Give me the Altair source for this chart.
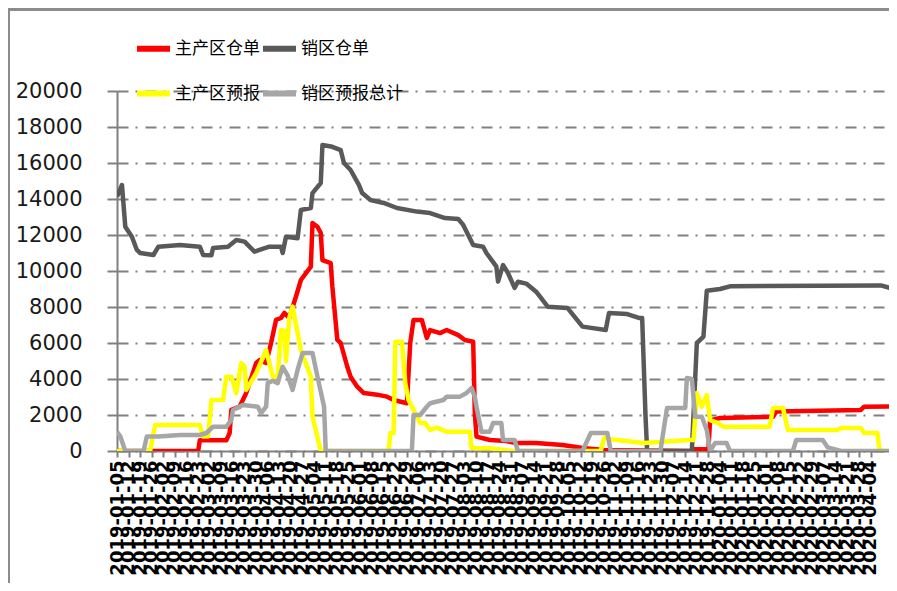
import altair as alt
import pandas as pd

SERIES = ["主产区仓单", "销区仓单", "主产区预报", "销区预报总计"]
COLORS = ["#FF0000", "#595959", "#FFFF00", "#A6A6A6"]
START = "2019-01-05"

# day offsets from START
RED_DAY = [0, 49, 50, 66, 68, 69, 74, 78, 80, 84, 86, 90, 93, 96, 99, 101, 104, 108, 111, 117,
           118, 121, 123, 124, 129, 130, 133, 135, 139, 141, 145, 149, 157, 163, 167, 175, 177, 179, 184, 187,
           189, 195, 199, 206, 210, 215, 216, 217, 225, 235, 241, 253, 269, 281, 294, 346, 348, 357, 358, 364,
           396, 398, 449, 451, 470]
RED_VAL = [0, 0, 600, 600, 1000, 2280, 2460, 3220, 3770, 4890, 5050, 4890, 6000, 7280, 7390, 7670, 7400, 8570, 9500, 10240,
           12670, 12460, 12110, 10610, 10440, 9130, 6170, 6000, 4680, 4130, 3570, 3220, 3130, 3020, 2830, 2650, 6000, 7280, 7280, 6280,
           6720, 6550, 6720, 6440, 6170, 6070, 2100, 800, 610, 550, 440, 440, 330, 170, 50, 0, 100, 100, 1700, 1830,
           1900, 2200, 2280, 2460, 2480]

DARK_DAY = [0, 3, 5, 9, 12, 14, 22, 25, 38, 50, 52, 57, 58, 67, 72, 77, 83, 86, 92, 99,
            100, 102, 109, 111, 117, 118, 123, 124, 130, 135, 137, 141, 146, 148, 153, 161, 169, 181, 189, 198,
            206, 209, 215, 221, 223, 229, 230, 233, 236, 240, 242, 247, 253, 260, 272, 281, 295, 297, 308, 315,
            317, 319, 320, 347, 350, 354, 356, 364, 370, 461, 467, 470]
DARK_VAL = [14130, 14780, 12460, 11900, 11170, 11000, 10890, 11350, 11440, 11350, 10890, 10870, 11280, 11350, 11720, 11630, 11070, 11170, 11350, 11350,
            11000, 11900, 11820, 13390, 13500, 14330, 14890, 17000, 16900, 16720, 16000, 15610, 14780, 14330, 13940, 13780, 13500, 13300, 13220, 12940,
            12890, 12560, 11440, 11350, 11000, 10240, 9410, 10330, 9890, 9060, 9400, 9300, 8850, 8020, 7940, 6910, 6720, 7670, 7610, 7390,
            7390, 2000, 0, 0, 6000, 6350, 8900, 9000, 9150, 9200, 9050, 9100]

YEL_DAY = [0, 20, 23, 50, 52, 55, 57, 64, 66, 69, 72, 75, 77, 78, 84, 90, 94, 97, 99, 101,
           102, 104, 106, 111, 117, 118, 123, 164, 165, 167, 168, 172, 174, 176, 179, 183, 186, 189, 193, 199,
           213, 214, 225, 239, 292, 294, 298, 318, 346, 348, 350, 353, 356, 358, 363, 366, 394, 396, 402, 405,
           435, 437, 449, 451, 459, 460, 461, 470]
YEL_VAL = [0, 0, 1440, 1440, 800, 800, 2830, 2830, 4130, 4130, 3220, 4890, 4700, 3390, 4330, 5610, 4130, 4130, 6720, 6700,
           5000, 7400, 8020, 5610, 4130, 1900, 0, 0, 1000, 1000, 6070, 6070, 3770, 2830, 2280, 1550, 1550, 1170, 1300, 1070,
           1070, 170, 150, 0, 0, 720, 650, 440, 610, 610, 3220, 2460, 3110, 1720, 1550, 1350, 1350, 2390, 2390, 1170,
           1170, 1280, 1280, 1000, 1000, 240, 0, 0]

GRY_DAY = [0, 2, 5, 16, 18, 25, 38, 50, 54, 58, 66, 69, 70, 76, 85, 87, 90, 91, 94, 97,
           100, 103, 106, 109, 112, 118, 121, 125, 126, 178, 179, 183, 187, 189, 197, 199, 207, 211, 214, 216,
           217, 220, 225, 227, 232, 233, 240, 242, 281, 286, 296, 298, 328, 332, 343, 344, 347, 349, 353, 356,
           358, 361, 368, 370, 408, 410, 426, 429, 437, 470]
GRY_VAL = [1070, 800, 0, 0, 800, 800, 890, 890, 1000, 1350, 1350, 1720, 2280, 2560, 2460, 2100, 2460, 3770, 3900, 3770,
           4680, 4200, 3390, 4500, 5440, 5440, 4130, 2460, 0, 0, 2000, 2000, 2460, 2650, 2830, 3020, 3020, 3220, 3500, 3000,
           2460, 1070, 1070, 1550, 1550, 610, 610, 0, 0, 1000, 1000, 0, 0, 2390, 2390, 4060, 4000, 1900, 1900, 1170,
           0, 440, 440, 0, 0, 610, 610, 200, 0, 0]

X_LABELS = [
    "2019-01-05", "2019-01-12", "2019-01-19", "2019-01-26", "2019-02-02", "2019-02-09", "2019-02-16", "2019-02-23",
    "2019-03-02", "2019-03-09", "2019-03-16", "2019-03-23", "2019-03-30", "2019-04-06", "2019-04-13", "2019-04-20",
    "2019-04-27", "2019-05-04", "2019-05-11", "2019-05-18", "2019-05-25", "2019-06-01", "2019-06-08", "2019-06-15",
    "2019-06-22", "2019-06-29", "2019-07-06", "2019-07-13", "2019-07-20", "2019-07-27", "2019-08-03", "2019-08-10",
    "2019-08-17", "2019-08-24", "2019-08-31", "2019-09-07", "2019-09-14", "2019-09-21", "2019-09-28", "2019-10-05",
    "2019-10-12", "2019-10-19", "2019-10-26", "2019-11-02", "2019-11-09", "2019-11-16", "2019-11-23", "2019-11-30",
    "2019-12-07", "2019-12-14", "2019-12-21", "2019-12-28", "2020-01-04", "2020-01-11", "2020-01-18", "2020-01-25",
    "2020-02-01", "2020-02-08", "2020-02-15", "2020-02-22", "2020-02-29", "2020-03-07", "2020-03-14", "2020-03-21",
    "2020-03-28", "2020-04-04",
]
X_END = "2020-04-15"
Y_TICKS = [0, 2000, 4000, 6000, 8000, 10000, 12000, 14000, 16000, 18000, 20000]

start = pd.Timestamp(START)
rows = []
for name, days, vals in zip(SERIES, [RED_DAY, DARK_DAY, YEL_DAY, GRY_DAY], [RED_VAL, DARK_VAL, YEL_VAL, GRY_VAL]):
    for d, v in zip(days, vals):
        rows.append({"date": (start + pd.Timedelta(days=d)).strftime("%Y-%m-%dT00:00:00"),
                     "value": v, "series": name})
df = pd.DataFrame(rows)


def dt(s):
    y, m, d = (int(p) for p in s.split("-"))
    return alt.DateTime(year=y, month=m, date=d)


x_enc = alt.X(
    "date:T",
    scale=alt.Scale(domain=[dt(START), dt(X_END)], nice=False),
    axis=alt.Axis(values=[dt(s) for s in X_LABELS], format="%Y-%m-%d", labelAngle=270,
                  labelFont="DejaVu Sans", labelFontSize=18, labelFontWeight="bold", labelColor="#000000",
                  labelOverlap=False, labelFlush=False, labelBound=False, labelPadding=3,
                  tickSize=6, tickWidth=2, tickColor="#808080", domainColor="#808080", domainWidth=2,
                  grid=False, title=None),
)
y_enc = alt.Y(
    "value:Q",
    scale=alt.Scale(domain=[0, 20000], nice=False),
    axis=alt.Axis(values=Y_TICKS, format="d", title=None, labelFont="DejaVu Sans", labelFontSize=21,
                  labelColor="#1a1a1a", labelPadding=25, tickSize=10, tickWidth=2, tickColor="#808080",
                  domainColor="#808080", domainWidth=2, grid=True, gridColor="#808080", gridWidth=2,
                  gridDash=[11, 7, 2, 8]),
)
color = alt.Color(
    "series:N",
    scale=alt.Scale(domain=SERIES, range=COLORS),
    sort=SERIES,
    legend=alt.Legend(title=None, orient="none", legendX=17, legendY=-62, columns=2, direction="horizontal",
                      symbolType="stroke", symbolStrokeWidth=6, symbolSize=1089,
                      labelFont="Noto Sans CJK SC", labelFontSize=17, labelColor="#000000",
                      columnPadding=-15, rowPadding=13, labelOffset=2),
)

lines = [
    alt.Chart(df).transform_filter(alt.datum.series == s)
    .mark_line(strokeWidth=4.5, clip=True, strokeJoin="round")
    .encode(x=x_enc, y=y_enc, color=color)
    for s in SERIES
]

frame_df = pd.DataFrame({"k": [0]})
frame_top = alt.Chart(frame_df).mark_rule(color="#8c8c8c", strokeWidth=3).encode(
    x=alt.value(-109), x2=alt.value(772), y=alt.value(-81.5))
frame_left = alt.Chart(frame_df).mark_rule(color="#8c8c8c", strokeWidth=2).encode(
    x=alt.value(-108), y=alt.value(-83), y2=alt.value(492))

chart = alt.layer(*lines, frame_top, frame_left).properties(
    width=772, height=360,
    autosize=alt.AutoSizeParams(type="none"),
    padding={"left": 109, "top": 83, "right": 0, "bottom": 132},
).configure_view(stroke=None)

chart.save("out.html", embed_options={"renderer": "svg", "actions": False})
